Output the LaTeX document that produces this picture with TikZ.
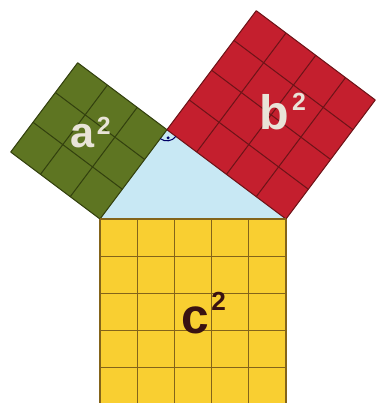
\documentclass[tikz,border=0pt]{standalone}
\usepackage{fontspec}
\setmainfont{Liberation Sans}
\usepackage{tikz}
\usetikzlibrary{calc}

\definecolor{olivesq}{HTML}{5E7522}
\definecolor{olivegrid}{HTML}{34420F}
\definecolor{redsq}{HTML}{C41F2E}
\definecolor{redgrid}{HTML}{701419}
\definecolor{yellowsq}{HTML}{F9CF31}
\definecolor{yellowgrid}{HTML}{84641A}
\definecolor{trifill}{HTML}{C8E8F4}
\definecolor{lightlbl}{HTML}{E9E4D8}
\definecolor{darklbl}{HTML}{3A1212}

\newcommand{\sqsup}[2]{\raisebox{#1}{\fontsize{#2}{#2}\selectfont\bfseries 2}}

\begin{document}
\begin{tikzpicture}[
  gridline/.style={line width=0.8pt},
  sqlabel/.style={anchor=base west, inner sep=0pt, font=\bfseries},
  rightmark/.style={draw=black!60!blue, line width=0.8pt}]

\clip (-2.688,-4.946) rectangle (7.419,5.887);

%% ── Triangle corners ─────────────────────────────────────────────
\coordinate (A) at (0,0);
\coordinate (B) at (5,0);
\coordinate (C) at (1.8,2.4);

%% ── Triangle ─────────────────────────────────────────────────────
\fill[trifill] (A) -- (C) -- (B) -- cycle;

%% ── Square a^2 (3 x 3) ───────────────────────────────────────────
\begin{scope}[shift={(A)}, rotate=53.13]
  \fill[olivesq] (0,0) rectangle (3,3);
  \draw[gridline, olivegrid] (0,0) grid (3,3);
\end{scope}

%% ── Square b^2 (4 x 4) ───────────────────────────────────────────
\begin{scope}[shift={(C)}, rotate=-36.87]
  \fill[redsq] (0,0) rectangle (4,4);
  \draw[gridline, redgrid] (0,0) grid (4,4);
\end{scope}

%% ── Square c^2 (5 x 5) ───────────────────────────────────────────
\fill[yellowsq] (0,-5) rectangle (5,0);
\draw[gridline, yellowgrid] (0,-5) grid (5,0);

%% ── Right angle mark ─────────────────────────────────────────────
\draw[rightmark] ($(C)+(-126.87:0.3)$) arc[start angle=-126.87, end angle=-36.87, radius=0.3];
\fill[black!60!blue] ($(C)+(-81.87:0.22)$) circle (0.045);

%% ── Labels ───────────────────────────────────────────────────────
\node[sqlabel, text=lightlbl] (asq) at (-0.788,1.909)
  {\fontsize{33}{33}\selectfont a\kern1.5pt\sqsup{10.5pt}{19}};
\node[sqlabel, text=lightlbl] (bsq) at (4.274,2.419)
  {\fontsize{37}{37}\selectfont b\kern2.5pt\sqsup{14.5pt}{19}};
\node[sqlabel, text=darklbl] (csq) at (2.177,-3.065)
  {\fontsize{38}{38}\selectfont c\kern2pt\sqsup{17.5pt}{20}};
\end{tikzpicture}
\end{document}
